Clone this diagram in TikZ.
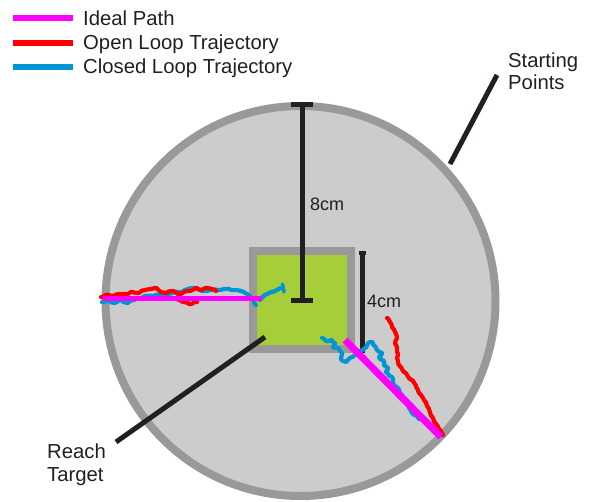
\documentclass[tikz,border=0pt]{standalone}
\usepackage{fontspec}
\setmainfont{Liberation Sans}
\usetikzlibrary{decorations.pathmorphing}
\definecolor{ringgray}{HTML}{999999}
\definecolor{fieldgray}{HTML}{CCCCCC}
\definecolor{targetgreen}{HTML}{A6CE39}
\definecolor{inkblack}{HTML}{231F20}
\definecolor{idealmag}{HTML}{FF00FF}
\definecolor{openred}{HTML}{FF0000}
\definecolor{closedblue}{HTML}{0096D6}
\tikzset{
  lbl/.style={font=\fontsize{20.3}{22}\selectfont, text=inkblack, inner sep=0pt, anchor=base west},
  dimlbl/.style={font=\fontsize{18}{20}\selectfont, text=inkblack, inner sep=0pt, anchor=base west},
  pointer/.style={draw=inkblack, line width=5pt},
  legline/.style={line width=6pt},
  traj/.style={line width=4.2pt, line cap=round, line join=round, rounded corners=0.8pt,
     decorate, decoration={random steps, segment length=2.2pt, amplitude=1pt}},
  ideal/.style={draw=idealmag},
}
\begin{document}
\begin{tikzpicture}[x=1pt,y=-1pt]
\pgfmathsetseed{11}
\useasboundingbox (0,0) rectangle (597,501);
% field
\draw[draw=ringgray, fill=fieldgray, line width=8pt] (300.5,301) circle (195);
% target
\draw[draw=ringgray, fill=targetgreen, line width=8pt] (253,251) rectangle (351,349);
% 4cm bar
\coordinate (f1) at (362,251);
\coordinate (f2) at (362,353);
\draw[draw=inkblack, line width=5pt] (f1) -- (f2);
\draw[draw=inkblack, line width=4pt] (358.5,253) -- (366,253);
\node[dimlbl] (four) at (367,307) {4cm};
% 8cm bar
\coordinate (e1) at (302,104);
\coordinate (e2) at (302,300);
\draw[draw=inkblack, line width=5pt] (e1) -- (e2);
\draw[draw=inkblack, line width=5pt] (291,104) -- (313,104);
\draw[draw=inkblack, line width=5pt] (291,300) -- (313,300);
\node[dimlbl] (eight) at (310,210) {8cm};
% legend
\coordinate (l1a) at (13,18.3); \coordinate (l1b) at (73,18.3);
\coordinate (l2a) at (13,42.7); \coordinate (l2b) at (73,42.7);
\coordinate (l3a) at (13,66.7); \coordinate (l3b) at (73,66.7);
\draw[legline, draw=idealmag] (l1a) -- (l1b);
\draw[legline, draw=openred] (l2a) -- (l2b);
\draw[legline, draw=closedblue] (l3a) -- (l3b);
\node[lbl] (t1) at (83,25.7) {Ideal Path};
\node[lbl] (t2) at (83,49.8) {Open Loop Trajectory};
\node[lbl] (t3) at (83,73.2) {Closed Loop Trajectory};
% labels with pointers
\node[lbl] (sp1) at (508,67) {Starting};
\node[lbl] (sp2) at (508,89) {Points};
\coordinate (spa) at (497,75);
\coordinate (spb) at (450,164);
\draw[pointer] (spa) -- (spb);
\node[lbl] (rt1) at (47,458) {Reach};
\node[lbl] (rt2) at (47,481) {Target};
\coordinate (rta) at (265,337);
\coordinate (rtb) at (116,442);
\draw[pointer] (rta) -- (rtb);
% closed loop trajectories
\draw[traj, draw=closedblue] (102,302) -- (108,301) -- (114,303) -- (120,300) -- (127,303) -- (134,300) -- (141,298) -- (148,296) -- (156,295) -- (164,295) -- (172,293) -- (180,292) -- (188,289) -- (195,288) -- (202,291) -- (210,290) -- (218,290) -- (226,289) -- (234,290) -- (241,291) -- (247,294) -- (252,299) -- (256,305);
\draw[traj, draw=closedblue] (260,300) -- (265,295) -- (271,292) -- (277,290) -- (283,288);
\draw[line width=3.5pt, line cap=round, draw=closedblue] (282.5,284) -- (284,292);
\draw[traj, draw=closedblue] (322,338) -- (326,341) -- (331,340) -- (335,343) -- (333,347) -- (338,348) -- (342,353) -- (341,359) -- (346,362) -- (350,358) -- (355,355) -- (360,351) -- (365,348) -- (368,343) -- (372,342) -- (375,346) -- (377,350) -- (382,353) -- (379,357) -- (383,360) -- (384,365) -- (388,368) -- (386,372) -- (392,377) -- (393,383) -- (398,388) -- (402,395) -- (407,401) -- (409,408) -- (413,414) -- (419,419);
% open loop trajectories
\draw[traj, draw=openred] (101,297) -- (106,295) -- (112,296) -- (118,294) -- (125,294) -- (131,292) -- (138,293) -- (145,290) -- (151,289) -- (156,288) -- (161,292) -- (166,293) -- (172,291) -- (178,294) -- (184,292) -- (190,291) -- (196,288) -- (201,290) -- (206,288) -- (212,289) -- (216,291);
\draw[traj, draw=openred] (176,298) -- (183,302) -- (190,304) -- (197,302);
\draw[traj, draw=openred] (387,318) -- (390,322) -- (392,327) -- (395,332) -- (397,338) -- (395,343) -- (397,348) -- (398,354) -- (398,362) -- (402,369) -- (407,375) -- (410,379) -- (415,384) -- (418,390) -- (421,395) -- (424,400) -- (427,406) -- (430,412) -- (433,418) -- (436,424) -- (440,430) -- (443,435);
% ideal paths
\coordinate (i1a) at (103,298); \coordinate (i1b) at (262,298);
\coordinate (i2a) at (345,340); \coordinate (i2b) at (441,437);
\draw[ideal, line width=5pt] (i1a) -- (i1b);
\draw[ideal, line width=7pt] (i2a) -- (i2b);
\end{tikzpicture}
\end{document}
